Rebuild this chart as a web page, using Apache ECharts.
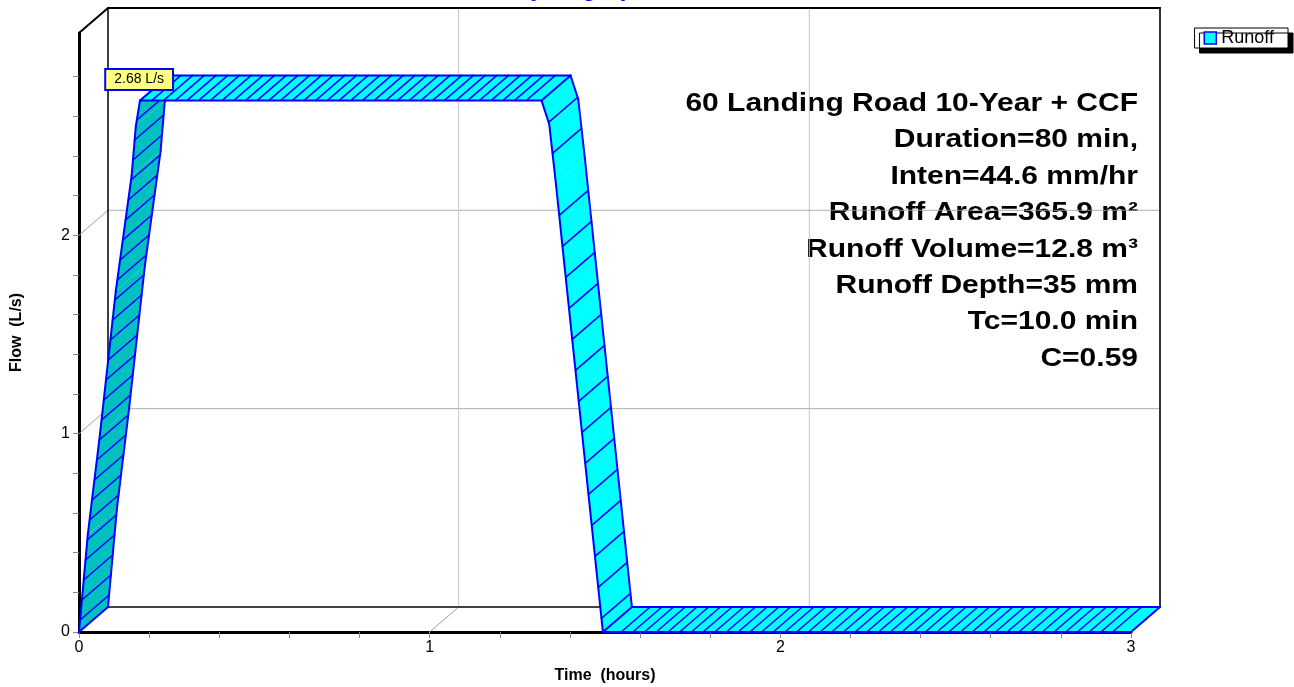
<!DOCTYPE html>
<html><head><meta charset="utf-8">
<script src="https://cdn.jsdelivr.net/npm/echarts@6/dist/echarts.min.js"></script>
<style>html,body{margin:0;padding:0;background:#fff}#chart{width:1294px;height:687px}</style>
</head><body><div id="chart"></div>
<script>
// ---------- data ----------
const timeHours = [0, 0.025, 0.06, 0.105, 0.15, 0.162, 0.174, 1.319, 1.341, 1.36, 1.494, 3.0];
const flowLps   = [0, 0.49, 1.0, 1.72, 2.30, 2.55, 2.68, 2.68, 2.56, 2.26, 0, 0];
const xGridValues = [1, 2];
const yGridValues = [1, 2];
const yTickValues = [0, 0.2, 0.4, 0.6, 0.8, 1, 1.2, 1.4, 1.6, 1.8, 2, 2.2, 2.4, 2.6, 2.8];
const yLabelValues = [0, 1, 2];
const xMax = 3, yMax = 3.02;
const chartTitle = 'Hydrograph';
const seriesName = 'Runoff';
const xAxisName = 'Time  (hours)';
const yAxisName = 'Flow  (L/s)';
const peakUnit = 'L/s';
const infoLines = [
  '60 Landing Road 10-Year + CCF',
  'Duration=80 min,',
  'Inten=44.6 mm/hr',
  'Runoff Area=365.9 m²',
  'Runoff Volume=12.8 m³',
  'Runoff Depth=35 mm',
  'Tc=10.0 min',
  'C=0.59'
];

// ---------- style ----------
const FONT = '"Liberation Sans", Arial, Helvetica, sans-serif';
const DEPTH = [29, -25];
const EDGE = '#0000FF';
const LIGHT = '#00FFFF';
const DARK = '#00C0C0';
const HATCH_FLAT = 11.7, HATCH_RISE = 20, HATCH_FALL = 31, PHASE = 0.6;
const STRETCH = 1.2;

const chart = echarts.init(document.getElementById('chart'), null, {renderer: 'canvas'});

function off(p) { return [p[0] + DEPTH[0], p[1] + DEPTH[1]]; }
function ln(a, b, stroke, w, dash) {
  return {type: 'line', shape: {x1: a[0], y1: a[1], x2: b[0], y2: b[1]},
    style: {stroke: stroke, lineWidth: w, lineDash: dash || null, lineCap: 'round'}};
}

function frameRender(params, api) {
  const o = api.coord([0, 0]), xr = api.coord([xMax, 0]), yt = api.coord([0, yMax]), tr = api.coord([xMax, yMax]);
  const ch = [];
  yGridValues.forEach(v => {
    const p = api.coord([0, v]), q = api.coord([xMax, v]);
    ch.push(ln(p, off(p), '#A0A0A0', 1));
    ch.push(ln(off(p), off(q), '#A0A0A0', 1, [1, 1]));
  });
  xGridValues.forEach(v => {
    const p = api.coord([v, 0]), q = api.coord([v, yMax]);
    ch.push(ln(p, off(p), '#A0A0A0', 1));
    ch.push(ln(off(p), off(q), '#C4C4C4', 1));
  });
  ch.push(ln(off(o), off(xr), '#404040', 2, [2, 1]));
  ch.push(ln(off(o), off(yt), '#000000', 1.5));
  ch.push(ln(off(xr), off(tr), '#333333', 2));
  ch.push(ln(off(yt), off(tr), '#000000', 2));
  ch.push(ln(yt, off(yt), '#000000', 2));
  return {type: 'group', children: ch};
}

function segInfo(a, b) {
  const dx = b[0] - a[0], dy = b[1] - a[1];
  const cross = dx * DEPTH[1] - dy * DEPTH[0];
  let units, kind;
  if (Math.abs(dy) <= Math.abs(dx)) { units = Math.abs(dx) / HATCH_FLAT; kind = 'flat'; }
  else if (dy < 0) { units = Math.abs(dy) / HATCH_RISE; kind = 'rise'; }
  else { units = Math.abs(dy) / HATCH_FALL; kind = 'fall'; }
  return {dark: cross > 0, units: units, kind: kind};
}

function ribbonRender(params, api) {
  const i = params.dataIndex;
  const n = timeHours.length;
  const pts = timeHours.map((t, k) => api.coord([t, flowLps[k]]));
  let H = 0;
  for (let k = 0; k < i; k++) H += segInfo(pts[k], pts[k + 1]).units;
  const a = pts[i], b = pts[i + 1];
  const info = segInfo(a, b);
  const poly = [a, b, off(b), off(a)];
  const ch = [{type: 'polygon', shape: {points: poly}, style: {fill: info.dark ? DARK : LIGHT}}];
  for (let m = Math.ceil(H - PHASE); m + PHASE < H + info.units; m++) {
    const f = (m + PHASE - H) / info.units;
    if (f <= 0.02 || f >= 0.98) continue;
    const p = [a[0] + (b[0] - a[0]) * f, a[1] + (b[1] - a[1]) * f];
    ch.push(ln(p, off(p), EDGE, 1.6));
  }
  ch.push(ln(a, b, EDGE, 2));
  ch.push(ln(off(a), off(b), EDGE, 2));
  const prevKind = i > 0 ? segInfo(pts[i - 1], pts[i]).kind : null;
  if (prevKind !== info.kind) ch.push(ln(a, off(a), EDGE, 2));
  if (i + 1 === n - 1) ch.push(ln(b, off(b), EDGE, 2));
  return {type: 'group', children: ch};
}

const peakVal = Math.max.apply(null, flowLps);
const peakIdx = flowLps.indexOf(peakVal);

function peakRender(params, api) {
  const p = api.coord([timeHours[peakIdx], flowLps[peakIdx]]);
  return {type: 'text', x: p[0] + 32, y: p[1] - 21,
    style: {text: peakVal.toFixed(2) + ' ' + peakUnit, font: '14px ' + FONT, fill: '#000',
      align: 'right', verticalAlign: 'middle', backgroundColor: '#FFFF80',
      borderColor: EDGE, borderWidth: 2, padding: [3, 8, 2, 8]}};
}

const option = {
  backgroundColor: '#ffffff',
  animation: false,
  grid: {left: 79, right: 163, top: 33, bottom: 55, outerBoundsMode: 'none', containLabel: false},
  xAxis: {
    type: 'value', min: 0, max: xMax, interval: 0.2,
    name: xAxisName, nameLocation: 'middle', nameGap: 36,
    nameTextStyle: {fontFamily: FONT, fontWeight: 'bold', fontSize: 16, color: '#000'},
    axisLine: {lineStyle: {color: '#000', width: 3}},
    axisTick: {show: true, length: 6, lineStyle: {color: '#888', width: 1}},
    axisLabel: {fontFamily: FONT, fontSize: 16, color: '#000', margin: 8,
      formatter: v => (Math.abs(v - Math.round(v)) < 1e-6 ? String(Math.round(v)) : '')},
    splitLine: {show: false}
  },
  yAxis: {
    type: 'value', min: 0, max: yMax, interval: 0.2,
    name: yAxisName, nameLocation: 'middle', nameGap: 54,
    nameTextStyle: {fontFamily: FONT, fontWeight: 'bold', fontSize: 16, color: '#000'},
    axisLine: {show: true, lineStyle: {color: '#000', width: 3}},
    axisTick: {show: true, length: 6, customValues: yTickValues, lineStyle: {color: '#888', width: 1}},
    axisLabel: {fontFamily: FONT, fontSize: 16, color: '#000', margin: 9, customValues: yLabelValues,
      formatter: v => (Math.abs(v - Math.round(v)) < 1e-6 && v < 2.99 ? String(Math.round(v)) : '')},
    splitLine: {show: false}
  },
  legend: {
    data: [{name: seriesName, icon: 'rect'}],
    right: 6, top: 28, orient: 'horizontal',
    backgroundColor: '#fff', borderColor: '#000', borderWidth: 1,
    padding: [1, 14, 1, 9], itemWidth: 12, itemHeight: 12, itemGap: 10,
    shadowColor: '#000', shadowOffsetX: 5, shadowOffsetY: 5, shadowBlur: 0,
    textStyle: {fontFamily: FONT, fontSize: 18, color: '#000'},
    itemStyle: {color: LIGHT, borderColor: EDGE, borderWidth: 1.5},
    selectedMode: false
  },
  graphic: [
    {type: 'text', x: 581, y: -11, style: {text: chartTitle, font: 'bold 24px ' + FONT, fill: '#0000FF', align: 'center', verticalAlign: 'middle'}},
    {type: 'text', x: 1138, y: 86, scaleX: STRETCH, style: {text: infoLines.join('\n'), font: 'bold 25px ' + FONT, fill: '#000', align: 'right', verticalAlign: 'top', lineHeight: 36.4}}
  ],
  series: [
    {type: 'custom', name: 'frame', silent: true, z: 1, clip: false, renderItem: frameRender, data: [[0, 0]]},
    {type: 'custom', name: seriesName, z: 3, clip: false, renderItem: ribbonRender,
      itemStyle: {color: LIGHT, borderColor: EDGE},
      encode: {x: 0, y: 1},
      data: timeHours.slice(0, -1).map((t, k) => [t, flowLps[k]])},
    {type: 'custom', name: 'peak', silent: true, z: 5, clip: false, renderItem: peakRender, data: [[timeHours[peakIdx], peakVal]]}
  ]
};
chart.setOption(option);
</script></body></html>
